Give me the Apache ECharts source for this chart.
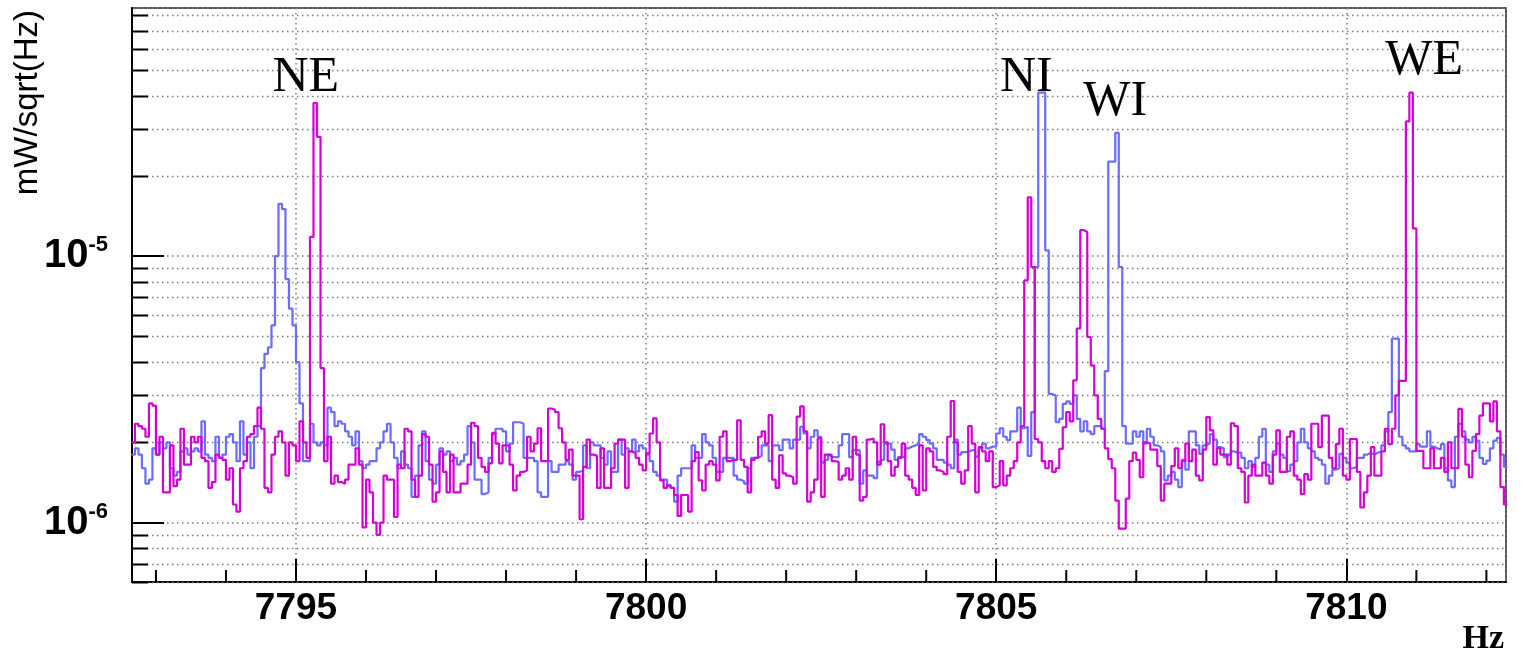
<!DOCTYPE html>
<html>
<head>
<meta charset="utf-8">
<title>spectrum</title>
<script src="https://cdn.jsdelivr.net/npm/echarts@6/dist/echarts.min.js"></script>
<style>
html, body { margin: 0; padding: 0; background: #fff; }
#chart { width: 1524px; height: 663px; }
</style>
</head>
<body>
<div id="chart"></div>
<script>
// histogram bins, 0.05 Hz wide
var binStart = 7792.65;
var binWidth = 0.05;

// blue trace, units of 1e-6 mW/sqrt(Hz)
var blueVals = [
  1.8, 1.9, 1.8, 1.6, 1.4, 1.45, 1.9, 1.8, 2.0, 1.9,
  2.0, 1.6, 1.5, 1.55, 1.85, 1.9, 1.8, 1.85, 1.9, 1.85,
  2.4, 1.8, 1.75, 1.7, 2.1, 1.75, 1.8, 2.1, 2.15, 2.0,
  1.7, 2.4, 1.8, 2.0, 1.6, 2.1, 2.3, 3.8, 4.3, 4.55,
  5.5, 10.0, 15.7, 15.0, 8.2, 6.35, 5.5, 4.0, 2.8, 1.7,
  1.7, 2.35, 2.0, 1.95, 2.0, 1.95, 2.7, 2.6, 2.3, 2.4,
  2.35, 2.2, 2.1, 1.95, 2.2, 1.7, 1.6, 1.65, 1.7, 1.7,
  1.9, 2.0, 2.2, 2.35, 2.0, 1.75, 1.6, 1.85, 1.65, 1.6,
  1.25, 1.5, 1.95, 2.2, 1.7, 1.45, 1.4, 1.65, 1.9, 1.8,
  1.85, 1.7, 1.75, 1.65, 1.7, 1.8, 2.3, 2.0, 1.45, 1.45,
  1.28, 1.3, 1.75, 2.15, 2.25, 2.25, 2.2, 1.85, 1.98, 2.38,
  2.38, 2.35, 1.75, 1.75, 1.75, 1.7, 1.3, 1.25, 1.25, 1.7,
  1.55, 1.55, 1.65, 1.65, 1.7, 1.65, 1.45, 1.55, 1.57, 1.95,
  1.6, 2.0, 1.95, 1.95, 1.75, 1.65, 1.85, 1.55, 1.55, 2.05,
  1.8, 1.9, 1.85, 2.05, 1.85, 1.95, 1.9, 1.8, 1.7, 1.55,
  1.5, 1.45, 1.45, 1.38, 1.35, 1.2, 1.5, 1.6, 1.6, 1.6,
  1.95, 1.75, 1.75, 2.15, 2.0, 1.95, 1.75, 1.55, 1.55, 1.75,
  1.75, 1.75, 1.5, 1.45, 1.43, 1.4, 1.6, 1.75, 1.75, 1.78,
  1.95, 1.95, 1.7, 1.95, 1.95, 1.87, 2.05, 2.05, 1.9, 2.05,
  2.05, 2.29, 2.16, 1.9, 2.1, 2.22, 2.1, 1.68, 1.72, 1.8,
  1.76, 1.76, 1.95, 2.15, 2.15, 1.76, 1.87, 1.87, 1.4, 1.57,
  1.5, 1.5, 1.47, 1.69, 1.72, 1.98, 1.98, 1.88, 1.72, 1.76,
  1.76, 1.9, 1.93, 1.95, 1.98, 2.15, 2.1, 2.04, 1.98, 1.9,
  1.72, 1.72, 1.68, 1.65, 1.6, 2.05, 1.8, 1.84, 1.84, 1.87,
  1.87, 1.77, 1.9, 1.98, 1.9, 1.93, 1.93, 2.16, 2.26, 2.1,
  2.04, 2.2, 2.2, 2.7, 2.26, 2.29, 1.78, 2.6, 9.1, 41,
  41, 10.5, 3.04, 3.0, 2.38, 2.45, 2.79, 2.85, 2.79, 3.0,
  2.45, 2.2, 2.4, 2.2, 2.15, 2.3, 2.3, 2.25, 3.7, 22.6,
  22.6, 29, 9.1, 2.3, 1.98, 1.98, 2.2, 2.1, 2.2, 1.98,
  2.25, 2.1, 1.95, 1.92, 1.85, 1.44, 1.5, 1.55, 1.45, 1.36,
  1.72, 1.58, 2.2, 2.2, 1.95, 1.81, 1.95, 1.98, 2.15, 2.05,
  1.92, 1.9, 1.76, 1.8, 1.85, 1.83, 1.83, 1.75, 1.6, 1.7,
  1.62, 1.75, 2.1, 2.25, 1.65, 1.55, 1.85, 1.98, 1.8, 1.75,
  1.56, 1.65, 1.7, 2.0, 2.25, 2.0, 1.9, 1.85, 1.75, 1.72,
  1.65, 1.4, 1.5, 1.58, 1.6, 1.81, 1.75, 1.68, 1.6, 1.62,
  1.75, 1.75, 1.8, 1.83, 1.8, 1.83, 1.85, 1.95, 2.2, 2.6,
  4.9, 4.9, 2.1, 1.95, 1.9, 1.85, 1.85, 1.97, 1.93, 1.93,
  2.2, 1.93, 1.9, 1.88, 1.97, 1.6, 1.44, 1.36, 2.1, 2.35,
  2.2, 2.05, 2.0, 2.1, 2.03, 1.75, 1.66, 1.71, 1.9, 2.03,
  2.08, 1.8, 1.62
];

// magenta trace, units of 1e-6 mW/sqrt(Hz)
var magentaVals = [
  2.0, 2.35, 2.3, 2.25, 2.1, 2.8, 2.75, 1.8, 2.1, 1.3,
  1.3, 1.95, 1.37, 1.45, 2.25, 1.65, 1.65, 2.1, 2.0, 2.1,
  1.75, 1.7, 1.35, 1.42, 1.8, 1.75, 1.72, 1.45, 1.6, 1.17,
  1.1, 1.6, 1.7, 2.1, 2.15, 2.3, 2.7, 2.25, 1.35, 1.3,
  1.8, 2.1, 2.2, 2.0, 1.5, 2.0, 1.95, 1.7, 2.4, 2.0,
  1.75, 11.8, 37.5, 28, 3.8, 1.7, 2.1, 1.4, 1.5, 1.42,
  1.4, 1.45, 1.65, 1.65, 1.9, 1.65, 0.96, 1.45, 1.3, 1.0,
  0.9, 1.0, 1.5, 1.45, 1.45, 1.05, 1.65, 1.6, 2.25, 2.2,
  1.45, 1.25, 1.5, 2.15, 2.1, 1.65, 1.2, 1.3, 1.85, 1.55,
  1.3, 1.8, 1.3, 1.3, 1.4, 1.4, 1.65, 2.37, 2.3, 1.75,
  1.62, 1.55, 1.67, 2.17, 1.98, 1.67, 1.95, 1.95, 1.65, 1.32,
  1.5, 1.55, 1.57, 2.1, 1.85, 1.98, 2.26, 1.7, 1.7, 2.68,
  2.65, 2.6, 2.26, 2.0, 1.72, 1.88, 1.5, 1.5, 1.03, 1.62,
  2.05, 1.8, 1.78, 1.35, 1.9, 1.35, 1.35, 1.6, 1.98, 2.05,
  2.05, 1.35, 1.85, 1.82, 1.75, 1.65, 1.57, 1.82, 2.16, 2.46,
  2.0, 1.44, 1.35, 1.38, 1.35, 1.27, 1.06, 1.27, 1.27, 1.1,
  1.7, 1.84, 1.44, 1.32, 1.65, 1.7, 1.65, 1.44, 2.1, 2.2,
  1.7, 1.72, 1.72, 2.42, 1.72, 1.62, 1.3, 1.72, 1.75, 2.1,
  2.2, 1.98, 2.53, 1.45, 1.35, 1.79, 1.53, 1.5, 1.48, 1.4,
  2.5, 2.73, 2.2, 1.2, 1.3, 1.45, 2.07, 1.25, 1.8, 1.78,
  1.7, 1.69, 1.45, 1.5, 1.6, 1.45, 2.1, 1.8, 1.21, 1.25,
  2.05, 2.07, 2.0, 1.65, 2.34, 2.0, 1.7, 1.5, 1.62, 1.75,
  1.98, 1.5, 1.45, 1.35, 1.27, 1.95, 1.32, 1.9, 1.85, 1.62,
  1.57, 1.55, 1.52, 2.1, 2.86, 2.0, 1.55, 1.4, 1.57, 2.3,
  1.98, 1.3, 1.92, 1.85, 1.7, 1.85, 1.36, 1.38, 1.7, 1.38,
  1.5, 1.6, 1.7, 2.0, 2.3, 8.1, 16.6, 9.1, 2.06, 2.0,
  1.7, 1.6, 1.7, 1.55, 1.6, 1.89, 2.28, 2.6, 2.4, 3.42,
  5.35, 12.5, 12.3, 4.97, 3.89, 3.0, 2.45, 2.25, 1.9, 1.73,
  1.6, 1.21, 0.95, 0.95, 1.23, 1.7, 1.83, 1.72, 1.48, 2.0,
  1.98, 1.88, 1.88, 1.63, 1.21, 1.4, 1.4, 1.63, 1.9, 1.6,
  1.7, 1.98, 1.7, 1.88, 1.5, 1.44, 1.88, 2.49, 2.22, 1.65,
  1.9, 1.8, 1.8, 1.65, 2.36, 2.3, 1.6, 1.55, 1.19, 1.5,
  1.65, 1.5, 1.5, 1.68, 1.5, 1.4, 1.8, 2.22, 1.55, 1.55,
  2.1, 2.2, 1.5, 1.45, 1.28, 1.52, 1.45, 2.35, 2.35, 1.92,
  2.52, 2.52, 1.75, 1.6, 1.97, 2.25, 1.5, 1.45, 2.06, 2.06,
  1.55, 1.14, 1.3, 1.5, 1.92, 1.5, 1.5, 1.85, 2.25, 1.97,
  2.25, 3.0, 3.4, 3.4, 32, 41, 12.7, 1.86, 1.86, 1.6,
  1.6, 1.9, 1.6, 1.6, 1.75, 1.55, 2.0, 1.6, 1.6, 2.67,
  2.1, 1.65, 1.48, 1.86, 2.15, 2.52, 2.8, 2.8, 2.4, 2.85,
  2.2, 1.36, 1.17
];

// peak annotations
var peakNames = ['NE', 'NI', 'WI', 'WE'];
var peakX = [7795.14, 7805.43, 7806.70, 7811.11];
var peakY = [46.7e-6, 46.7e-6, 37.9e-6, 54.1e-6];

// axis ranges
var xMin = 7792.658, xMax = 7812.28;
var yMin = 5.99e-7, yMax = 8.52e-5;

// minor ticks (1 Hz on x, 2..9 per decade on y)
var xMinorTicks = [];
for (var t = 7793; t <= 7812; t++) {
  if (t % 5 !== 0) xMinorTicks.push(t);
}
var yMinorTicks = [];
[1e-7, 1e-6, 1e-5].forEach(function (d) {
  for (var m = 2; m <= 9; m++) {
    var v = m * d;
    if (v > yMin && v < yMax) yMinorTicks.push(v);
  }
});

// turn bin contents into step-line points (left edge of each bin + closing edge)
function toSteps(vals) {
  var pts = vals.map(function (v, i) {
    return [binStart + i * binWidth, v * 1e-6];
  });
  pts.push([binStart + vals.length * binWidth, vals[vals.length - 1] * 1e-6]);
  return pts;
}

var dotColor = '#7a7a7a';
var gridDash = { color: dotColor, width: 1.5, type: [1.5, 3.5] };

var chart = echarts.init(document.getElementById('chart'));
chart.setOption({
  animation: false,
  backgroundColor: '#fff',
  grid: {
    left: 132, right: 18, top: 8, bottom: 81,
    show: true, borderColor: '#222', borderWidth: 1.5
  },
  xAxis: {
    type: 'value',
    min: xMin, max: xMax,
    minInterval: 5, maxInterval: 5,
    axisLine: { lineStyle: { color: '#000', width: 2 } },
    axisTick: { inside: true, length: 23, lineStyle: { color: '#000', width: 2 } },
    axisLabel: {
      showMinLabel: false, showMaxLabel: false,
      margin: 8, color: '#000',
      formatter: function (v) { return String(Math.round(v)); },
      fontFamily: 'Liberation Sans', fontWeight: 'bold', fontSize: 37
    },
    splitLine: { show: true, lineStyle: gridDash }
  },
  yAxis: {
    type: 'log', logBase: 10,
    min: yMin, max: yMax,
    axisLine: { lineStyle: { color: '#000', width: 2 } },
    axisTick: { inside: true, length: 32, lineStyle: { color: '#000', width: 2 } },
    axisLabel: {
      showMinLabel: false, showMaxLabel: false,
      margin: 24,
      formatter: function (v) {
        var e = Math.round(Math.log(v) / Math.LN10);
        return '{b|10}{s|' + e + '}';
      },
      rich: {
        b: { fontFamily: 'Liberation Sans', fontWeight: 'bold', fontSize: 40, lineHeight: 44, color: '#000' },
        s: { fontFamily: 'Liberation Sans', fontWeight: 'bold', fontSize: 22, lineHeight: 22, verticalAlign: 'top', color: '#000' }
      }
    },
    splitLine: { show: true, lineStyle: gridDash }
  },
  graphic: [
    {
      type: 'text', x: 28, y: 10, rotation: Math.PI / 2,
      style: {
        text: 'mW/sqrt(Hz)', fill: '#000',
        fontFamily: 'Liberation Sans', fontSize: 33,
        align: 'right', verticalAlign: 'middle'
      }
    },
    {
      type: 'text', x: 1504, y: 639,
      style: {
        text: 'Hz', fill: '#000',
        fontFamily: 'Liberation Serif', fontWeight: 'bold', fontSize: 34,
        align: 'right', verticalAlign: 'middle'
      }
    }
  ],
  series: [
    {
      // dotted grid + ticks at minor y values
      type: 'custom', silent: true, z: 1,
      data: yMinorTicks.map(function (v) { return [xMin, v]; }),
      renderItem: function (params, api) {
        var cs = params.coordSys;
        var y = Math.round(api.coord([api.value(0), api.value(1)])[1]) + 0.5;
        return {
          type: 'group',
          children: [
            { type: 'line', shape: { x1: cs.x, y1: y, x2: cs.x + cs.width, y2: y },
              style: { stroke: dotColor, lineWidth: 1.5, lineDash: [1.5, 3.5] } },
            { type: 'line', shape: { x1: cs.x, y1: y, x2: cs.x + 16, y2: y },
              style: { stroke: '#000', lineWidth: 2 } }
          ]
        };
      }
    },
    {
      // minor x ticks
      type: 'custom', silent: true, z: 1,
      data: xMinorTicks.map(function (v) { return [v, yMin]; }),
      renderItem: function (params, api) {
        var cs = params.coordSys;
        var x = api.coord([api.value(0), api.value(1)])[0];
        var yb = cs.y + cs.height;
        return {
          type: 'line', shape: { x1: x, y1: yb, x2: x, y2: yb - 12 },
          style: { stroke: '#000', lineWidth: 2 }
        };
      }
    },
    {
      name: 'blue', type: 'line', step: 'end',
      symbol: 'none', z: 3,
      lineStyle: { color: '#6b6bff', width: 2.2 },
      data: toSteps(blueVals)
    },
    {
      name: 'magenta', type: 'line', step: 'end',
      symbol: 'none', z: 4,
      lineStyle: { color: '#d400d4', width: 2.2 },
      data: toSteps(magentaVals)
    },
    {
      name: 'labels', type: 'scatter', z: 5,
      symbolSize: 0, silent: true,
      itemStyle: { color: 'rgba(0,0,0,0)' },
      label: {
        show: true, position: 'inside', formatter: '{b}',
        color: '#000', textBorderWidth: 0, opacity: 1,
        fontFamily: 'Liberation Serif', fontSize: 50
      },
      data: peakNames.map(function (n, i) {
        return { name: n, value: [peakX[i], peakY[i]] };
      })
    }
  ]
});
</script>
</body>
</html>
